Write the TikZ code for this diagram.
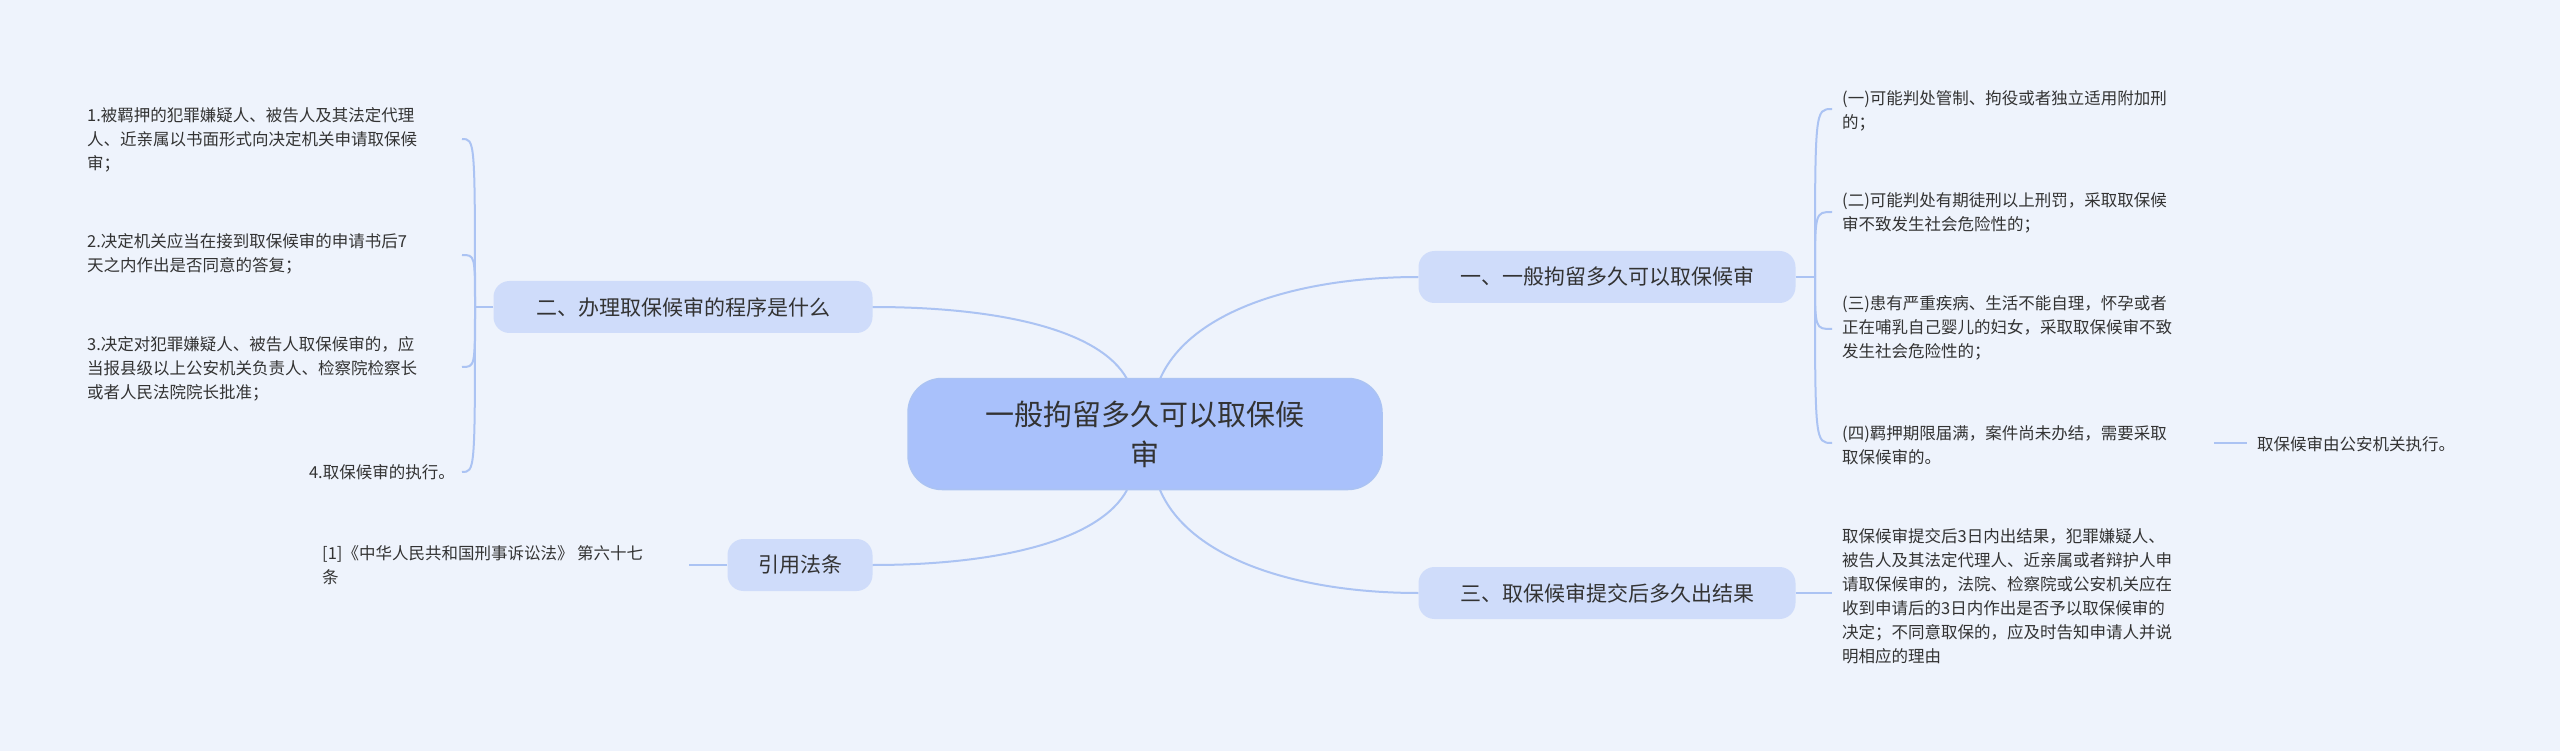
\documentclass[tikz,border=0pt]{standalone}
\usepackage{fontspec}
\setmainfont{Noto Sans CJK SC}
\begin{document}
\begin{tikzpicture}[x=1pt,y=-1pt,
  every node/.style={font=\fontsize{16.5}{24}\selectfont, text=black!80},
  leaf/.style={align=left, anchor=west, inner sep=0pt},
  topic/.style={rounded corners=16pt, fill=blue!20!cyan!5!white, fill=mainfill, minimum height=52pt, inner xsep=18pt, font=\fontsize{21}{26}\selectfont},
  conn/.style={draw=linec, line width=2pt}]
\definecolor{bg}{HTML}{EEF3FC}
\definecolor{linec}{HTML}{ABC3F3}
\definecolor{mainfill}{HTML}{CFDCFA}
\definecolor{centerfill}{HTML}{A9C1FB}
\fill[bg] (0,0) rectangle (2560,751);
\useasboundingbox (0,0) rectangle (2560,751);
% center
\node[draw=linec, line width=1.5pt, fill=centerfill, rounded corners=34pt, minimum width=474pt, minimum height=111pt, align=center, font=\fontsize{29}{40}\selectfont] (c) at (1145,434) {一般拘留多久可以取保候\\审};
\node[topic, minimum width=377pt] (n1) at (1607,277) {一、一般拘留多久可以取保候审};
\node[topic, minimum width=379pt] (n2) at (683,307) {二、办理取保候审的程序是什么};
\node[topic, minimum width=145pt] (n4) at (800,565) {引用法条};
\node[topic, minimum width=377pt] (n3) at (1607,593) {三、取保候审提交后多久出结果};
\draw[conn] (1127,379) .. controls (1100,330) and (1000,307) .. (n2.east);
\draw[conn] (1160,379) .. controls (1190,310) and (1300,277) .. (n1.west);
\draw[conn] (1127,490) .. controls (1100,540) and (1000,565) .. (n4.east);
\draw[conn] (1160,490) .. controls (1190,560) and (1300,593) .. (n3.west);
% left leaves
\node[leaf] (l1) at (87,140) {1.被羁押的犯罪嫌疑人、被告人及其法定代理\\人、近亲属以书面形式向决定机关申请取保候\\审；};
\node[leaf] (l2) at (87,254) {2.决定机关应当在接到取保候审的申请书后7\\天之内作出是否同意的答复；};
\node[leaf] (l3) at (87,369) {3.决定对犯罪嫌疑人、被告人取保候审的，应\\当报县级以上公安机关负责人、检察院检察长\\或者人民法院院长批准；};
\node[leaf, anchor=east] (l4) at (455,472) {4.取保候审的执行。};
\coordinate (b2) at (475,307);
\draw[conn] (n2.west) -- (b2);
\foreach \y in {139,255,367,472}{
  \draw[conn] (b2) .. controls (475,\y) and (475,\y) .. (462,\y);
}
\node[leaf] (cit) at (322,565) {[1]《中华人民共和国刑事诉讼法》 第六十七\\条};
\draw[conn] (n4.west) -- (689,565);
% right leaves
\node[leaf] (r1) at (1842,111) {(一)可能判处管制、拘役或者独立适用附加刑\\的；};
\node[leaf] (r2) at (1842,213) {(二)可能判处有期徒刑以上刑罚，采取取保候\\审不致发生社会危险性的；};
\node[leaf] (r3) at (1842,328) {(三)患有严重疾病、生活不能自理，怀孕或者\\正在哺乳自己婴儿的妇女，采取取保候审不致\\发生社会危险性的；};
\node[leaf] (r4) at (1842,445) {(四)羁押期限届满，案件尚未办结，需要采取\\取保候审的。};
\node[leaf] (r5) at (2257,444) {取保候审由公安机关执行。};
\coordinate (b1) at (1815,277);
\draw[conn] (n1.east) -- (b1);
\foreach \y in {109,212,329,443}{
  \draw[conn] (b1) .. controls (1815,\y) and (1815,\y) .. (1832,\y);
}
\draw[conn] (2214,443) -- (2247,443);
\node[leaf] (r6) at (1842,596) {取保候审提交后3日内出结果，犯罪嫌疑人、\\被告人及其法定代理人、近亲属或者辩护人申\\请取保候审的，法院、检察院或公安机关应在\\收到申请后的3日内作出是否予以取保候审的\\决定；不同意取保的，应及时告知申请人并说\\明相应的理由};
\draw[conn] (n3.east) -- (1832,593);
\end{tikzpicture}
\end{document}
